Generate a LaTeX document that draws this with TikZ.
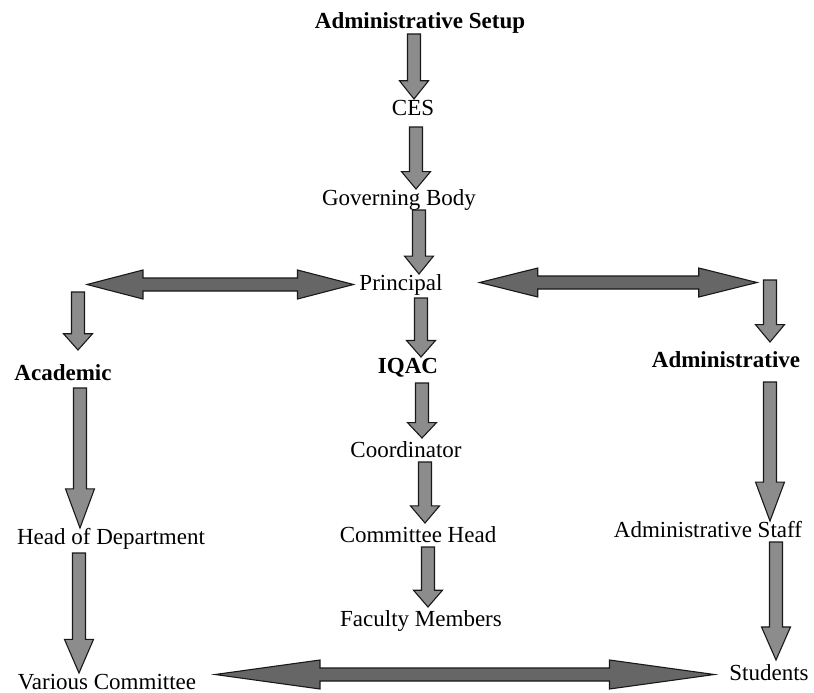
\documentclass[tikz,border=0pt]{standalone}
\usepackage{fontspec}
\setmainfont{Liberation Serif}
\usetikzlibrary{calc}

\tikzset{
  lbl/.style={inner sep=0pt, outer sep=0pt, anchor=base, text height=16pt, text depth=5pt, font=\fontsize{23}{27}\selectfont},
  lblbold/.style={lbl, font=\fontsize{23}{27}\selectfont\bfseries},
  vblockarrow/.style={draw=black!90, line width=1.1pt, line join=miter, fill=black!45},
  hblockarrow/.style={draw=black!90, line width=1.1pt, line join=miter, fill=black!60}
}

% block arrow pointing down, from #1 to tip #2
\newcommand\vblock[2]{%
  \path[vblockarrow] let \p1=(#1), \p2=(#2), \n1={0.28*(\y1-\y2)} in
    (\x1-6.5pt,\y1) -- (\x1-6.5pt,\y2+\n1) -- (\x1-14.5pt,\y2+\n1) -- (\x1,\y2)
    -- (\x1+14.5pt,\y2+\n1) -- (\x1+6.5pt,\y2+\n1) -- (\x1+6.5pt,\y1) -- cycle;}

% two-way block arrow, tips #1 and #2
\newcommand\hblock[2]{%
  \path[hblockarrow] let \p1=(#1), \p2=(#2), \n1={0.21*(\x2-\x1)} in
    (\x1,\y1) -- (\x1+\n1,\y1-14.5pt) -- (\x1+\n1,\y1-6.5pt) -- (\x2-\n1,\y1-6.5pt)
    -- (\x2-\n1,\y1-14.5pt) -- (\x2,\y1) -- (\x2-\n1,\y1+14.5pt) -- (\x2-\n1,\y1+6.5pt)
    -- (\x1+\n1,\y1+6.5pt) -- (\x1+\n1,\y1+14.5pt) -- cycle;}

\begin{document}
\begin{tikzpicture}[y=1pt, x=1pt, yscale=-1, xscale=1]

\useasboundingbox (0,0) rectangle (814,693);

% labels
\node[lblbold] (setup) at (420,29) {Administrative Setup};
\node[lbl] (ces) at (413,115) {CES};
\node[lbl] (gb) at (399,205) {Governing Body};
\node[lbl] (principal) at (401,290) {Principal};
\node[lblbold] (iqac) at (408,373) {IQAC};
\node[lbl] (coord) at (406,457) {Coordinator};
\node[lbl] (ch) at (418,542) {Committee Head};
\node[lbl] (fm) at (421,626) {Faculty Members};
\node[lblbold] (acad) at (63,380) {Academic};
\node[lbl] (hod) at (111,544) {Head of Department};
\node[lbl] (various) at (107,689) {Various Committee};
\node[lblbold] (admin) at (726,367) {Administrative};
\node[lbl] (astaff) at (708,537) {Administrative Staff};
\node[lbl] (students) at (769,680) {Students};

\coordinate (acadturn) at (87,284.5);
\coordinate (adminturn) at (757,284.5);
\coordinate (acaddrop) at (78,292);
\coordinate (admindrop) at (770,280);

% centre column
\vblock{414,0 |- setup.south}{414,0 |- ces.north}
\vblock{$(416,0 |- ces.south)+(0,7)$}{416,0 |- gb.north}
\vblock{419,0 |- gb.south}{419,0 |- principal.north}
\vblock{$(421,0 |- principal.south)+(0,3)$}{421,0 |- iqac.north}
\vblock{$(422,0 |- iqac.south)+(0,5)$}{$(422,0 |- coord.north)+(0,-3)$}
\vblock{425,0 |- coord.south}{$(425,0 |- ch.north)+(0,-3)$}
\vblock{428,0 |- ch.south}{$(428,0 |- fm.north)+(0,-3)$}

% academic side
\hblock{acadturn}{$(principal.west)+(-6,0)$}
\vblock{acaddrop}{$(78,0 |- acad.north)+(0,-14)$}
\vblock{$(80,0 |- acad.south)+(0,3)$}{80,0 |- hod.north}
\vblock{$(79,0 |- hod.south)+(0,4)$}{79,0 |- various.north}

% administrative side
\hblock{$(principal.east)+(37,-2)$}{adminturn}
\vblock{admindrop}{$(770,0 |- admin.north)+(0,-9)$}
\vblock{$(770,0 |- admin.south)+(0,10)$}{770,0 |- astaff.north}
\vblock{776,0 |- astaff.south}{$(776,0 |- students.north)+(0,-4)$}

% bottom
\hblock{$(various.east)+(19,-9)$}{$(students.west)+(-15,0)$}

\end{tikzpicture}
\end{document}
